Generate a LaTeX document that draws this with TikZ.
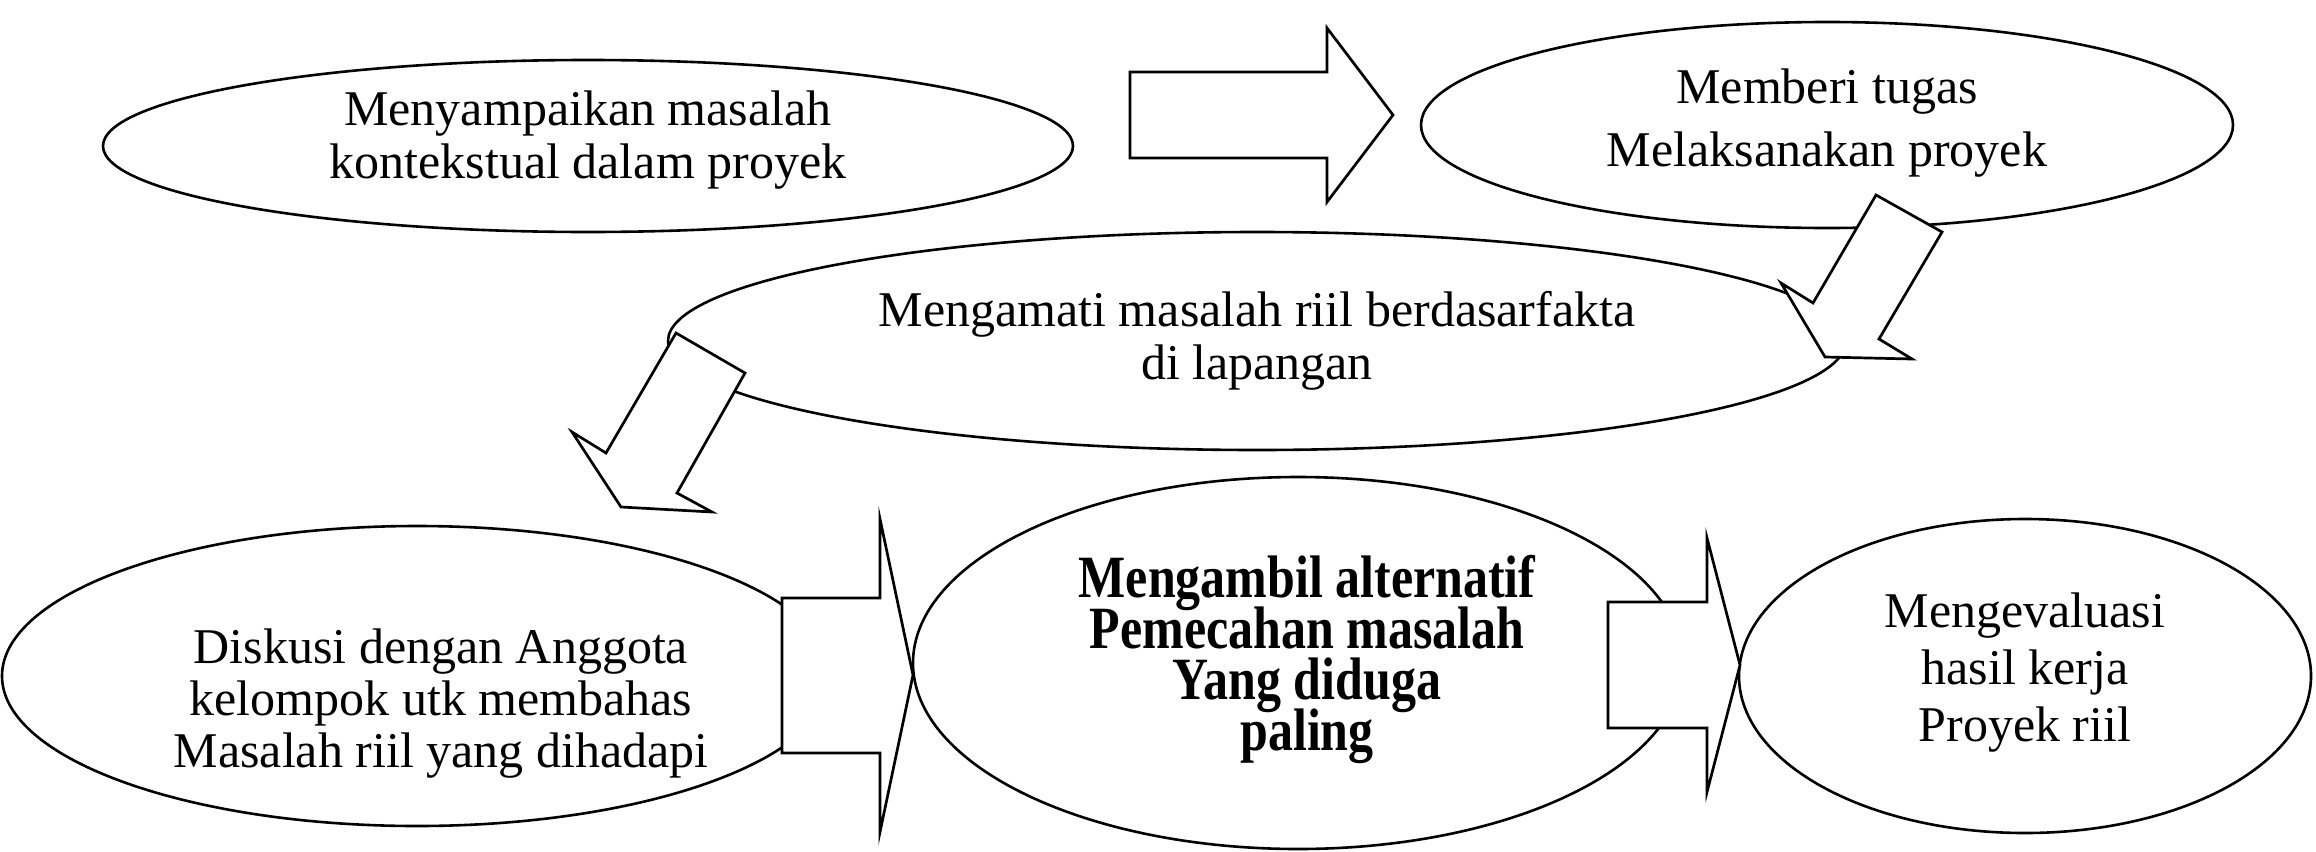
\documentclass[tikz,border=0pt]{standalone}
\usepackage{fontspec}
\setmainfont{Liberation Serif}
\newfontfamily\condserif{Liberation Serif}[FakeStretch=0.833]
\usetikzlibrary{shapes.geometric}
\begin{document}
\lineskiplimit=-100pt
\begin{tikzpicture}[x=0.5pt,y=-0.5pt,
  ell/.style={draw, line width=1.3pt, fill=white, ellipse, inner sep=0pt},
  txt/.style={inner sep=0pt, align=center, font={\fontsize{25}{#1}\selectfont}},
  boldtxt/.style={inner sep=0pt, align=center, font={\condserif\bfseries\fontsize{30}{25.5}\selectfont}},
  blockarrow/.style={draw, line width=1.35pt, fill=white, line join=miter}]
\useasboundingbox (0,0) rectangle (2316,851);
% ellipses
\node[ell, minimum width=485pt, minimum height=86pt] (e1) at (588,146) {};
\node[ell, minimum width=406pt, minimum height=103pt] (e2) at (1827,125) {};
\node[ell, minimum width=589pt, minimum height=109pt] (e3) at (1257,341) {};
\node[ell, minimum width=415pt, minimum height=150pt] (e4) at (417,676) {};
\node[ell, minimum width=385pt, minimum height=186pt] (e5) at (1298,663) {};
\node[ell, minimum width=286pt, minimum height=157pt] (e6) at (2025,676) {};
% texts
\node[txt=26.5] (t1) at ([shift={(0,-6)}]e1.center) {Menyampaikan masalah\\kontekstual dalam proyek};
\node[txt=31.5] (t2) at ([shift={(0,-2)}]e2.center) {Memberi tugas\\Melaksanakan proyek};
\node[txt=26.5] (t3) at (e3.center) {Mengamati masalah riil berdasarfakta\\di lapangan};
\node[txt=26] (t4) at ([shift={(24,28)}]e4.center) {Diskusi dengan Anggota\\kelompok utk membahas\\Masalah riil yang dihadapi};
\node[boldtxt] (t5) at ([shift={(9,-4)}]e5.center) {Mengambil alternatif\\Pemecahan masalah\\Yang diduga\\paling};
\node[txt=28.5] (t6) at ([shift={(0,-3)}]e6.center) {Mengevaluasi\\hasil kerja\\Proyek riil};
% block arrows
\draw[blockarrow] (1130,72) -- (1327,72) -- (1327,28) -- (1393,115) -- (1327,202) -- (1327,158) -- (1130,158) -- cycle;
\draw[blockarrow] (1876,195) -- (1942,232) -- (1879,339) -- (1912,359) -- (1825,357) -- (1781,283) -- (1813,303) -- cycle;
\draw[blockarrow] (676,333) -- (745,373) -- (677,493) -- (712,512) -- (621,507) -- (572,432) -- (606,453) -- cycle;
\draw[blockarrow] (782,598) -- (880,598) -- (880,519) -- (913,675) -- (880,832) -- (880,753) -- (782,753) -- cycle;
\draw[blockarrow] (1608,602) -- (1707,602) -- (1707,538) -- (1740,665) -- (1707,792) -- (1707,728) -- (1608,728) -- cycle;
\end{tikzpicture}
\end{document}
